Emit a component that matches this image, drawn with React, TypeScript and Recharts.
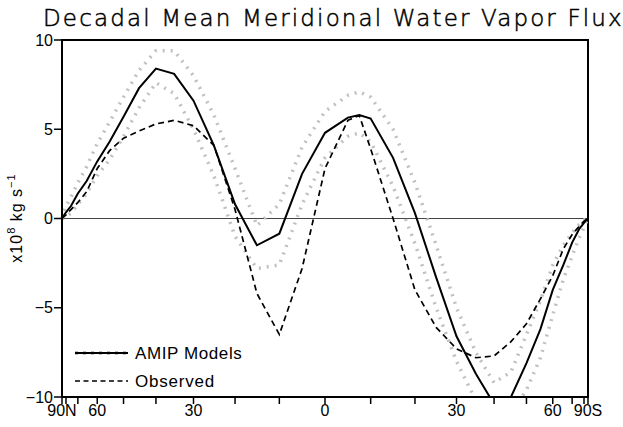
import { Legend, Line, LineChart, ReferenceArea, ReferenceLine, XAxis, YAxis } from "recharts"

// latitude, degrees (north positive)
const latitudes = [90, 85, 80, 75, 70, 65, 60, 55, 50, 45, 40, 35, 30, 25, 20, 15, 10, 5, 0, -5, -7.5, -10, -15, -20, -25, -30, -35, -40, -45, -50, -55, -60, -65, -70, -75, -80, -85, -90]

// x10^8 kg/s
const amipMean = [0, 0.1, 0.35, 0.7, 1.4, 2.1, 3.2, 4.3, 5.7, 7.3, 8.4, 8.1, 6.6, 4.1, 0.8, -1.5, -0.85, 2.5, 4.8, 5.65, 5.8, 5.6, 3.4, 0.3, -3.3, -6.6, -8.7, -10.4, -10.0, -8.1, -6.2, -4.0, -2.6, -1.35, -0.6, -0.25, -0.05, 0]
const amipHigh = [0, 0.3, 0.7, 1.2, 2.0, 2.9, 4.2, 5.4, 6.8, 8.3, 9.4, 9.4, 8.0, 5.8, 2.8, -0.4, 0.8, 4.0, 6.0, 6.9, 7.1, 6.8, 5.0, 2.0, -1.5, -5.0, -7.5, -9.2, -8.6, -6.5, -4.6, -2.6, -1.5, -0.8, -0.35, -0.1, 0, 0]
const amipLow = [0, 0, 0.1, 0.3, 0.8, 1.4, 2.4, 3.3, 4.6, 6.2, 7.6, 7.0, 5.0, 2.4, -1.0, -2.8, -2.6, 0.8, 3.4, 4.6, 4.8, 4.3, 1.8, -1.4, -5.0, -8.0, -10.2, -11.4, -11.0, -9.6, -7.8, -5.4, -3.4, -2.1, -1.1, -0.5, -0.1, 0]
const observed = [0, 0.05, 0.2, 0.5, 0.9, 1.5, 2.8, 3.8, 4.5, 4.9, 5.3, 5.5, 5.2, 4.1, 0.5, -4.2, -6.5, -2.8, 2.8, 5.5, 5.77, 3.9, 0, -4.0, -6.1, -7.3, -7.8, -7.7, -6.9, -5.9, -4.5, -3.2, -1.7, -0.9, -0.45, -0.15, -0.03, 0]

const tickLats = [90, 80, 70, 60, 50, 40, 30, 20, 10, 0, -10, -20, -30, -40, -50, -60, -70, -80, -90]
const tickLabels: Record<number, string> = { 90: "90N", 60: "60", 30: "30", 0: "0", [-30]: "30", [-60]: "60", [-90]: "90S" }
const yTicks = [-10, -5, 0, 5, 10]

const rad = (d: number) => (d * Math.PI) / 180

const data = latitudes.map((lat, i) => ({
  x: Math.sin(rad(lat)),
  mean: amipMean[i],
  high: amipHigh[i],
  low: amipLow[i],
  obs: observed[i],
}))

const font = "'Liberation Sans', Arial, sans-serif"

function YLabel() {
  return (
    <text x={22} y={218} transform="rotate(-90, 22, 218)" textAnchor="middle" fontFamily={font} fontSize={16} letterSpacing={1} fill="#000">
      x10<tspan dy={-7} fontSize={11}>8</tspan>
      <tspan dy={7}> kg s</tspan>
      <tspan dy={-7} fontSize={11}>−1</tspan>
    </text>
  )
}

function LegendBox() {
  return (
    <svg width={190} height={60} style={{ display: "block" }}>
      <line x1={2} y1={13} x2={55} y2={13} stroke="#bdbdbd" strokeWidth={4} strokeDasharray="3 5" />
      <line x1={2} y1={13} x2={55} y2={13} stroke="#000" strokeWidth={1.8} />
      <text x={62} y={19} fontFamily={font} fontSize={17} letterSpacing={0.6}>AMIP Models</text>
      <line x1={2} y1={41} x2={55} y2={41} stroke="#000" strokeWidth={1.6} strokeDasharray="5 3.5" />
      <text x={62} y={47} fontFamily={font} fontSize={17} letterSpacing={0.8}>Observed</text>
    </svg>
  )
}

export default function App() {
  return (
    <div style={{ position: "absolute", left: 0, top: 0, width: 623, height: 427, background: "#fff" }}>
      <div
        style={{
          position: "absolute",
          left: 43,
          top: 5,
          width: 580,
          fontFamily: "'DejaVu Sans', sans-serif",
          fontWeight: 200,
          fontSize: 23,
          letterSpacing: 2.15,
          whiteSpace: "nowrap",
          color: "#000",
          WebkitTextStroke: "0.5px #000",
        }}
      >
        Decadal Mean Meridional Water Vapor Flux
      </div>
      <LineChart width={623} height={427} data={data} margin={{ top: 40, right: 35, bottom: 0, left: 0 }}>
        <XAxis
          dataKey="x"
          type="number"
          domain={[-1, 1]}
          reversed
          ticks={tickLats.map((l) => Math.sin(rad(l)))}
          interval={0}
          tickFormatter={(v: number) => tickLabels[Math.round((Math.asin(Math.max(-1, Math.min(1, v))) * 180) / Math.PI)] ?? ""}
          height={30}
          tickSize={7}
          tickMargin={1}
          axisLine={{ stroke: "#000", strokeWidth: 2 }}
          tickLine={{ stroke: "#000", strokeWidth: 1.5 }}
          tick={{ fill: "#000", fontSize: 16, fontFamily: font }}
        />
        <YAxis
          domain={[-10, 10]}
          allowDataOverflow
          ticks={yTicks}
          interval={0}
          width={62}
          tickSize={8}
          tickMargin={1}
          tickFormatter={(v: number) => (v < 0 ? `−${-v}` : `${v}`)}
          axisLine={{ stroke: "#000", strokeWidth: 2 }}
          tickLine={{ stroke: "#000", strokeWidth: 1.5 }}
          tick={{ fill: "#000", fontSize: 16, fontFamily: font }}
          label={<YLabel />}
        />
        <ReferenceLine y={0} stroke="#444" strokeWidth={1} />
        <Line dataKey="high" stroke="#c0c0c0" strokeWidth={3.5} strokeDasharray="2 6" dot={false} isAnimationActive={false} legendType="none" />
        <Line dataKey="low" stroke="#c0c0c0" strokeWidth={3.5} strokeDasharray="2 6" dot={false} isAnimationActive={false} legendType="none" />
        <Line dataKey="obs" stroke="#000" strokeWidth={1.7} strokeDasharray="6 4" dot={false} isAnimationActive={false} />
        <Line dataKey="mean" stroke="#000" strokeWidth={2} dot={false} isAnimationActive={false} />
        <ReferenceArea x1={-1} x2={1} y1={-10} y2={10} fill="none" stroke="#000" strokeWidth={2} />
        <Legend
          content={<LegendBox />}
          layout="horizontal"
          verticalAlign="middle"
          align="center"
          wrapperStyle={{ left: 73, top: 340, width: 190, height: 60 }}
        />
      </LineChart>
    </div>
  )
}
